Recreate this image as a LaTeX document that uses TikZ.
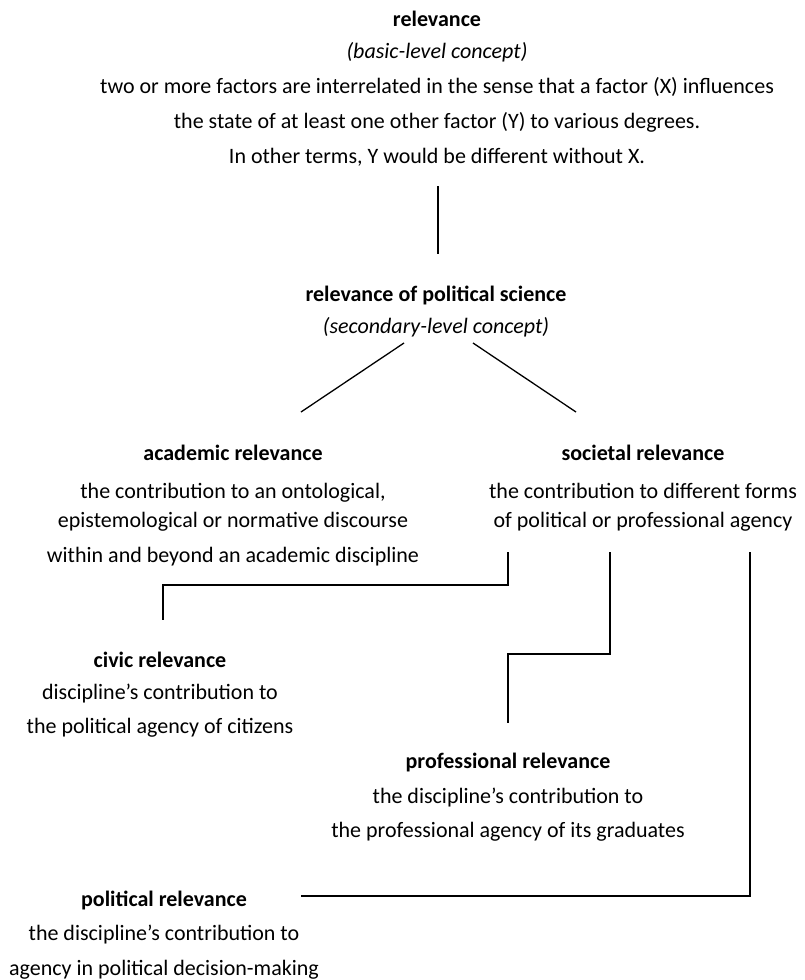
\documentclass[tikz,border=0pt]{standalone}
\usepackage{fontspec}
\setmainfont{Carlito}
\usepackage{tikz}

\tikzset{
  concept/.style={align=center, anchor=base, inner sep=0pt, font=\fontsize{22}{35}\selectfont},
  link/.style={line width=1.3pt}
}

\begin{document}
\begin{tikzpicture}[x=1pt, y=-1pt]
  \useasboundingbox (0,0) rectangle (804,980);

  %% Concepts (placed at the baseline of their last line)
  \node[concept] (basic) at (437,163) {\textbf{relevance}\\[-3pt]
    \textit{(basic-level concept)}\\
    two or more factors are interrelated in the sense that a factor (X) influences\\
    the state of at least one other factor (Y) to various degrees.\\
    In other terms, Y would be different without X.};
  \node[concept] (polsci) at (436,333) {\textbf{relevance of political science}\\[-3pt]
    \textit{(secondary-level concept)}};
  \node[concept] (academic) at (233,562) {\textbf{academic relevance}\\[3pt]
    the contribution to an ontological,\\[-6pt]
    epistemological or normative discourse\\
    within and beyond an academic discipline};
  \node[concept] (societal) at (643,527) {\textbf{societal relevance}\\[3pt]
    the contribution to different forms\\[-6pt]
    of political or professional agency};
  \node[concept] (civic) at (160,733) {\textbf{civic relevance}\\[-3pt]
    discipline's contribution to\\[-1pt]
    the political agency of citizens};
  \node[concept] (professional) at (508,837) {\textbf{professional relevance}\\
    the discipline's contribution to\\[-1pt]
    the professional agency of its graduates};
  \node[concept] (political) at (164,975) {\textbf{political relevance}\\[-1pt]
    the discipline's contribution to\\
    agency in political decision-making};

  %% Connector ends
  \coordinate (basic-out) at (438,186);
  \coordinate (polsci-in) at (438,254);
  \coordinate (polsci-left) at (404,343);
  \coordinate (polsci-right) at (473,343);
  \coordinate (academic-in) at (301,412);
  \coordinate (societal-in) at (576,412);
  \coordinate (civic-out) at (508,552);
  \coordinate (civic-in) at (163,620);
  \coordinate (professional-out) at (610,552);
  \coordinate (professional-in) at (508,723);
  \coordinate (political-out) at (750,552);
  \coordinate (political-in) at (301,896);

  %% Connectors
  \draw[link] (basic-out) -- (polsci-in);
  \draw[link] (polsci-left) -- (academic-in);
  \draw[link] (polsci-right) -- (societal-in);
  \draw[link] (civic-out) |- (163,585) -- (civic-in);
  \draw[link] (professional-out) |- (508,654) -- (professional-in);
  \draw[link] (political-out) |- (political-in);

\end{tikzpicture}
\end{document}
